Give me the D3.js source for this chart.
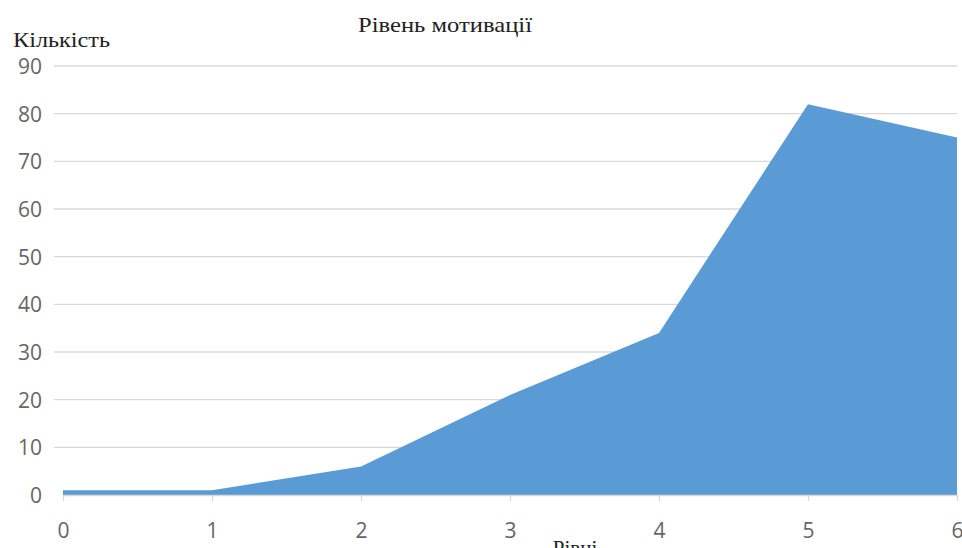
<!DOCTYPE html>
<html><head><meta charset="utf-8">
<script src="https://cdn.jsdelivr.net/npm/d3@7"></script>
<style>body{margin:0;background:#fff}svg{display:block}</style>
</head><body>
<script>
const levels = [0, 1, 2, 3, 4, 5, 6];
const counts = [1, 1, 6, 21, 34, 82, 75];
const yTicks = [0, 10, 20, 30, 40, 50, 60, 70, 80, 90];
const title = "Рівень мотивації";
const yTitle = "Кількість";
const xTitle = "Рівні";

const W = 962, H = 548;
const svg = d3.select("body").append("svg").attr("width", W).attr("height", H);
const x = d3.scaleLinear().domain([0, 6]).range([63, 957]);
const y = d3.scaleLinear().domain([0, 90]).range([495, 66]);

// gridlines
svg.append("g").selectAll("line").data(yTicks.filter(d => d > 0)).join("line")
  .attr("x1", 54).attr("x2", 957)
  .attr("y1", d => y(d)).attr("y2", d => y(d))
  .attr("stroke", "#d9d9d9").attr("stroke-width", 1.3);

// area
const data = levels.map((l, i) => ({l, v: counts[i]}));
svg.append("path").datum(data)
  .attr("d", d3.area().x(d => x(d.l)).y0(y(0)).y1(d => y(d.v)))
  .attr("fill", "#5b9bd5");

// x axis
const xa = svg.append("g").attr("transform", `translate(0,${y(0)})`)
  .call(d3.axisBottom(x).tickValues(levels).tickFormat(d3.format("d")).tickSize(6).tickSizeOuter(0));
xa.select(".domain").attr("stroke", "#d9d9d9").attr("stroke-width", 1.3);
xa.selectAll(".tick line").attr("stroke", "#d9d9d9").attr("stroke-width", 1.3);
xa.selectAll(".tick text").attr("dy", 0).attr("y", 43)
  .attr("font-family", "Open Sans").attr("font-size", 21).attr("fill", "#666");

// y axis labels
svg.append("g").selectAll("text").data(yTicks).join("text")
  .attr("x", 42).attr("y", d => y(d) + 8).attr("text-anchor", "end")
  .attr("font-family", "Open Sans").attr("font-size", 21).attr("fill", "#666")
  .text(d => d);

svg.append("text").attr("x", 358).attr("y", 32)
  .attr("textLength", 174).attr("lengthAdjust", "spacingAndGlyphs")
  .attr("font-family", "Liberation Serif").attr("font-size", 22).attr("fill", "#222").text(title);
svg.append("text").attr("x", 13).attr("y", 47)
  .attr("textLength", 97).attr("lengthAdjust", "spacingAndGlyphs")
  .attr("font-family", "Liberation Serif").attr("font-size", 21).attr("fill", "#222").text(yTitle);
svg.append("text").attr("x", 575).attr("y", 555).attr("text-anchor", "middle")
  .attr("font-family", "Liberation Serif").attr("font-size", 21).attr("fill", "#222").text(xTitle);
</script>
</body></html>
